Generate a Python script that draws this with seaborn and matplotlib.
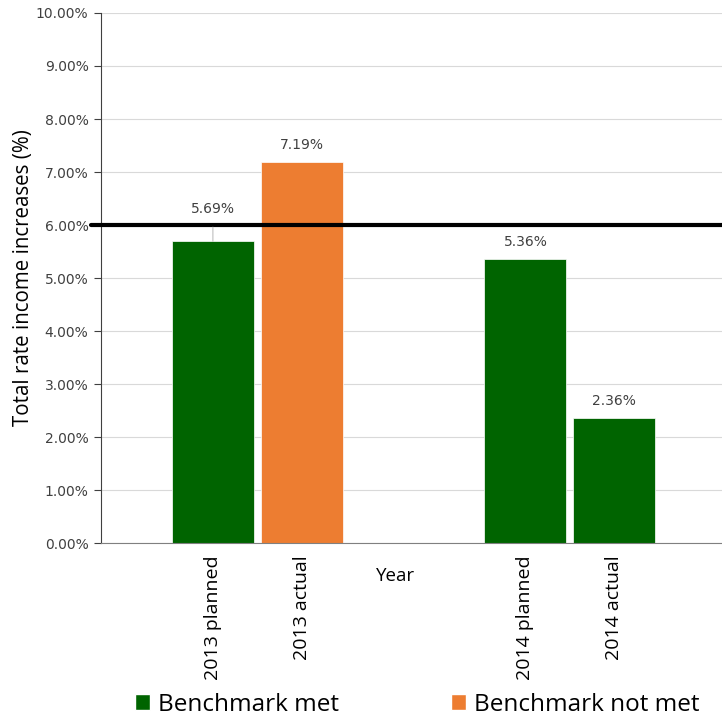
import matplotlib
matplotlib.use("Agg")
import matplotlib.pyplot as plt
import matplotlib.ticker as mticker
from matplotlib.patches import Patch
import pandas as pd
import seaborn as sns

# Chart data
years = ["2013", "2013", "2014", "2014"]
kinds = ["planned", "actual", "planned", "actual"]
rate_increase = [5.69, 7.19, 5.36, 2.36]
benchmark_met = [True, False, True, True]
benchmark = 6.0

GREEN = "#006400"
ORANGE = "#ED7D31"

df = pd.DataFrame({"year": years, "kind": kinds, "value": rate_increase, "met": benchmark_met})

sns.set_theme(style="white")
plt.rcParams["font.family"] = ["DejaVu Sans"]

fig = plt.figure(figsize=(7.22, 7.18), dpi=100)
ax = fig.add_axes([0.1399, 0.2437, 0.8601, 0.7382])

sns.barplot(data=df, x="year", y="value", hue="kind", hue_order=["planned", "actual"],
            order=["2013", "2014"], width=0.568, gap=0.077, ax=ax, legend=False,
            saturation=1)

# Colour each bar by whether the benchmark was met
bar_info = []
for h_idx, kind in enumerate(["planned", "actual"]):
    for c_idx, yr in enumerate(["2013", "2014"]):
        row = df[(df.year == yr) & (df.kind == kind)].iloc[0]
        patch = ax.containers[h_idx].patches[c_idx]
        patch.set_facecolor(GREEN if row.met else ORANGE)
        patch.set_edgecolor("white")
        patch.set_linewidth(0.5)
        bar_info.append((patch.get_x() + patch.get_width() / 2, row.value, f"{yr} {kind}"))

bar_info.sort(key=lambda t: t[0])

ax.set_xlim(-0.5, 1.487)
ax.set_ylim(0, 10)
ax.yaxis.set_major_locator(mticker.MultipleLocator(1))
ax.yaxis.set_major_formatter(mticker.FuncFormatter(lambda v, p: f"{v:.2f}%"))
ax.grid(axis="y", color="#d9d9d9", linewidth=0.8)
ax.set_axisbelow(True)

for s in ["top", "right"]:
    ax.spines[s].set_visible(False)
ax.spines["left"].set_color("#404040")
ax.spines["left"].set_linewidth(0.8)
ax.spines["bottom"].set_color("#808080")
ax.spines["bottom"].set_linewidth(0.8)

ax.tick_params(axis="y", left=True, length=5, width=0.8, color="#404040",
               labelsize=10, labelcolor="#404040", pad=4)
ax.set_xticks([b[0] for b in bar_info])
ax.set_xticklabels([b[2] for b in bar_info], rotation=90, fontsize=14,
                   fontfamily="Open Sans", color="#000000")
ax.tick_params(axis="x", bottom=False, pad=3)

ax.set_xlabel("")
ax.set_ylabel("Total rate income increases (%)", fontsize=14.8,
              fontfamily="Open Sans", labelpad=1, color="#000000")
ax.text(0.475, -0.062, "Year", transform=ax.transAxes, ha="center", va="center",
        fontsize=13.5, fontfamily="Open Sans", color="#000000")

# Benchmark line
ax.axhline(benchmark, xmin=-0.016, xmax=1, color="black", linewidth=3, clip_on=False, zorder=5)

# Value labels
for xc, val, name in bar_info:
    if abs(val - benchmark) < 0.5 and val < benchmark:
        ax.annotate(f"{val:.2f}%", xy=(xc, val), xytext=(xc, val + 0.62),
                    ha="center", va="center", fontsize=10, color="#404040",
                    arrowprops=dict(arrowstyle="-", color="#bfbfbf", lw=0.8,
                                    shrinkA=6, shrinkB=0), zorder=6)
    else:
        ax.text(xc, val + 0.32, f"{val:.2f}%", ha="center", va="center",
                fontsize=10, color="#404040")

handles = [Patch(facecolor=GREEN, label="Benchmark met"),
           Patch(facecolor=ORANGE, label="Benchmark not met")]
leg = fig.legend(handles=handles, loc="center", bbox_to_anchor=(0.578, 0.0185), ncol=2,
                 frameon=False, prop={"family": "Open Sans", "size": 17.5},
                 handlelength=0.6, handleheight=0.6, handletextpad=0.35,
                 columnspacing=4.6, borderaxespad=0)
for t in leg.get_texts():
    t.set_color("#000000")

fig.savefig("out.png", dpi=100)
